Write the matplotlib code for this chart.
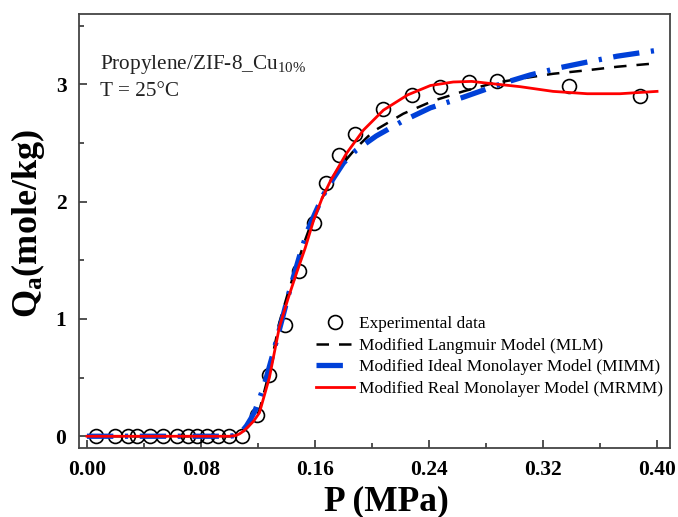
import matplotlib
matplotlib.use("Agg")
import matplotlib.pyplot as plt
from matplotlib.ticker import MultipleLocator

plt.rcParams['font.family'] = ['Liberation Serif', 'DejaVu Serif']
plt.rcParams['mathtext.default'] = 'regular'

# Experimental data
exp_p = [0.006, 0.020, 0.029, 0.035, 0.044, 0.053, 0.063, 0.071, 0.077, 0.084, 0.092, 0.100, 0.109,
         0.119, 0.128, 0.139, 0.149, 0.159, 0.168, 0.177, 0.188, 0.208, 0.228, 0.248, 0.268, 0.288,
         0.338, 0.388]
exp_q = [0.0, 0.0, 0.0, 0.0, 0.0, 0.0, 0.0, 0.0, 0.0, 0.0, 0.0, 0.0, 0.0,
         0.18, 0.52, 0.95, 1.41, 1.82, 2.16, 2.40, 2.58, 2.79, 2.91, 2.98, 3.02, 3.03,
         2.99, 2.90]

# Modified Langmuir Model (MLM)
mlm_p = [0.0, 0.100, 0.104, 0.107, 0.110, 0.113, 0.117, 0.121, 0.128, 0.135, 0.141, 0.147, 0.153,
         0.159, 0.165, 0.171, 0.180, 0.189, 0.201, 0.222, 0.243, 0.264, 0.285, 0.305, 0.327,
         0.351, 0.372, 0.400]
mlm_q = [0.0, 0.0, 0.005, 0.02, 0.045, 0.08, 0.14, 0.22, 0.55, 0.97, 1.22, 1.45, 1.67,
         1.87, 2.03, 2.17, 2.33, 2.46, 2.60, 2.75, 2.86, 2.94, 3.01, 3.05, 3.09,
         3.12, 3.15, 3.18]

# Modified Ideal Monolayer Model (MIMM)
mimm_p = [0.0, 0.100, 0.103, 0.106, 0.109, 0.112, 0.115, 0.118, 0.124, 0.130, 0.137, 0.143, 0.149,
          0.155, 0.160, 0.166, 0.173, 0.180, 0.189, 0.203, 0.222, 0.241, 0.264, 0.292, 0.311,
          0.331, 0.351, 0.372, 0.400]
mimm_q = [0.0, 0.0, 0.005, 0.02, 0.045, 0.09, 0.15, 0.22, 0.42, 0.68, 1.00, 1.28, 1.53,
          1.76, 1.90, 2.06, 2.20, 2.33, 2.44, 2.56, 2.69, 2.80, 2.89, 3.01, 3.08,
          3.14, 3.19, 3.24, 3.29]

# Modified Real Monolayer Model (MRMM)
mrmm_p = [0.0, 0.100, 0.104, 0.107, 0.110, 0.113, 0.117, 0.121, 0.128, 0.135, 0.141, 0.147, 0.153,
          0.159, 0.165, 0.171, 0.182, 0.194, 0.208, 0.225, 0.241, 0.257, 0.270, 0.281, 0.304,
          0.327, 0.351, 0.374, 0.400]
mrmm_q = [0.0, 0.0, 0.005, 0.02, 0.045, 0.08, 0.13, 0.20, 0.50, 0.93, 1.17, 1.39, 1.60,
          1.84, 2.03, 2.18, 2.41, 2.61, 2.78, 2.91, 2.99, 3.02, 3.025, 3.01, 2.98,
          2.94, 2.92, 2.92, 2.94]

xtick_vals = [0.0, 0.08, 0.16, 0.24, 0.32, 0.40]
xtick_labels = ['0.00', '0.08', '0.16', '0.24', '0.32', '0.40']

fig = plt.figure(figsize=(6.78, 5.17), dpi=100)
ax = fig.add_axes([0.1165, 0.1335, 0.8715, 0.8395])

ax.plot(exp_p, exp_q, linestyle='none', marker='o', markersize=10, markerfacecolor='none',
        markeredgecolor='black', markeredgewidth=1.2, label='Experimental data', zorder=2)
ax.plot(mlm_p, mlm_q, color='black', linewidth=1.8, linestyle=(0, (5, 4)),
        label='Modified Langmuir Model (MLM)', zorder=3)
ax.plot(mimm_p, mimm_q, color='#0040d8', linewidth=3.8, linestyle=(0, (5, 2.2, 0.6, 2.2)),
        label='Modified Ideal Monolayer Model (MIMM)', zorder=3)
ax.plot(mrmm_p, mrmm_q, color='#ff0000', linewidth=2.0, linestyle='-',
        label='Modified Real Monolayer Model (MRMM)', zorder=4)

ax.set_xlim(-0.0056, 0.409)
ax.set_ylim(-0.1, 3.6)
ax.xaxis.set_minor_locator(MultipleLocator(0.04))
ax.yaxis.set_major_locator(MultipleLocator(1))
ax.yaxis.set_minor_locator(MultipleLocator(0.5))
ax.set_xticks(xtick_vals)
ax.set_xticklabels(xtick_labels)
ax.tick_params(which='both', direction='in', top=False, right=False, width=1.2, color='#333333')
ax.tick_params(which='major', length=6, labelsize=15.5, pad=9)
ax.tick_params(which='minor', length=3.5)
for lab in ax.get_xticklabels() + ax.get_yticklabels():
    lab.set_fontweight('bold')
for s in ax.spines.values():
    s.set_linewidth(1.3)
    s.set_color('#444444')

ax.set_xlabel('P (MPa)', fontsize=25.5, fontweight='bold', labelpad=3)
ax.xaxis.set_label_coords(0.52, -0.085, transform=ax.transAxes)
ax.xaxis.label.set_va('top')
ax.set_ylabel('Q$_a$(mole/kg)', fontsize=26, fontweight='bold')
ax.yaxis.set_label_coords(-0.054, 0.518, transform=ax.transAxes)

ax.text(0.0355, 0.884, 'Propylene/ZIF-8_Cu$_{10\\%}$', transform=ax.transAxes, fontsize=15.3,
        color='#222222', va='center', ha='left')
ax.text(0.0355, 0.821, 'T = 25°C', transform=ax.transAxes, fontsize=15.3,
        color='#222222', va='center', ha='left')

ax.legend(loc='lower right', bbox_to_anchor=(1.008, 0.09), frameon=False, fontsize=12.4,
          handlelength=2.2, handletextpad=0.25, labelspacing=0.32, borderaxespad=0.3)

fig.savefig('out.png', dpi=100)
